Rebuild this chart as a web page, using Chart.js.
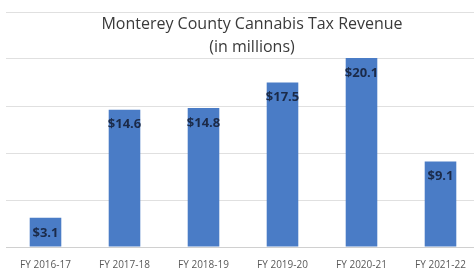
<!DOCTYPE html>
<html>
<head>
<meta charset="utf-8">
<script src="https://cdn.jsdelivr.net/npm/chart.js@4"></script>
<style>
  html, body { margin: 0; padding: 0; background: #fff; overflow: hidden; }
  #wrap { width: 504px; height: 271px; }
</style>
</head>
<body>
<div id="wrap"><canvas id="myChart"></canvas></div>
<script>
const anios = ['FY 2016-17', 'FY 2017-18', 'FY 2018-19', 'FY 2019-20', 'FY 2020-21', 'FY 2021-22'];
const ingresos = [3.1, 14.6, 14.8, 17.5, 20.1, 9.1];
const etiquetas = ['$3.1', '$14.6', '$14.8', '$17.5', '$20.1', '$9.1'];
const titulo = ['Monterey County Cannabis Tax Revenue', '(in millions)'];

const fuente = "'Open Sans', 'Liberation Sans', sans-serif";

// titulo dentro del area del grafico, como en Excel
const tituloPlugin = {
    id: 'tituloPlugin',
    afterDraw(chart) {
        const ctx = chart.ctx;
        ctx.save();
        ctx.fillStyle = '#3a3a3a';
        ctx.font = '16px ' + fuente;
        ctx.textAlign = 'center';
        ctx.textBaseline = 'middle';
        ctx.fillText(titulo[0], 252, 24);
        ctx.fillText(titulo[1], 252, 47);
        ctx.restore();
    }
};

const etiquetasPlugin = {
    id: 'etiquetasPlugin',
    afterDatasetsDraw(chart) {
        const ctx = chart.ctx;
        const meta = chart.getDatasetMeta(0);
        ctx.save();
        ctx.fillStyle = '#1b2a48';
        ctx.font = 'bold 13px ' + fuente;
        ctx.textAlign = 'center';
        ctx.textBaseline = 'middle';
        meta.data.forEach((bar, i) => {
            ctx.fillText(etiquetas[i], bar.x, bar.y + 15);
        });
        ctx.restore();
    }
};

const grafico = document.querySelector('#myChart');
new Chart(grafico.getContext('2d'), {
    type: 'bar',
    data: {
        labels: anios,
        datasets: [{
            data: ingresos,
            backgroundColor: '#4a7cc6',
            categoryPercentage: 1,
            barPercentage: 0.4
        }]
    },
    options: {
        responsive: true,
        maintainAspectRatio: false,
        animation: false,
        layout: { padding: { left: 6, right: 24, top: 12, bottom: 0 } },
        plugins: { legend: { display: false }, tooltip: { enabled: false } },
        scales: {
            x: {
                grid: { display: false, drawTicks: false },
                border: { color: '#d0d0d0' },
                ticks: { color: '#595959', font: { size: 10, family: fuente }, padding: 12, maxRotation: 0 },
                afterFit(scale) { scale.height = 24; }
            },
            y: {
                min: 0,
                max: 25,
                ticks: { display: false, stepSize: 5 },
                grid: { color: '#e0e0e0', drawTicks: false },
                border: { display: false }
            }
        }
    },
    plugins: [tituloPlugin, etiquetasPlugin]
});
</script>
</body>
</html>
